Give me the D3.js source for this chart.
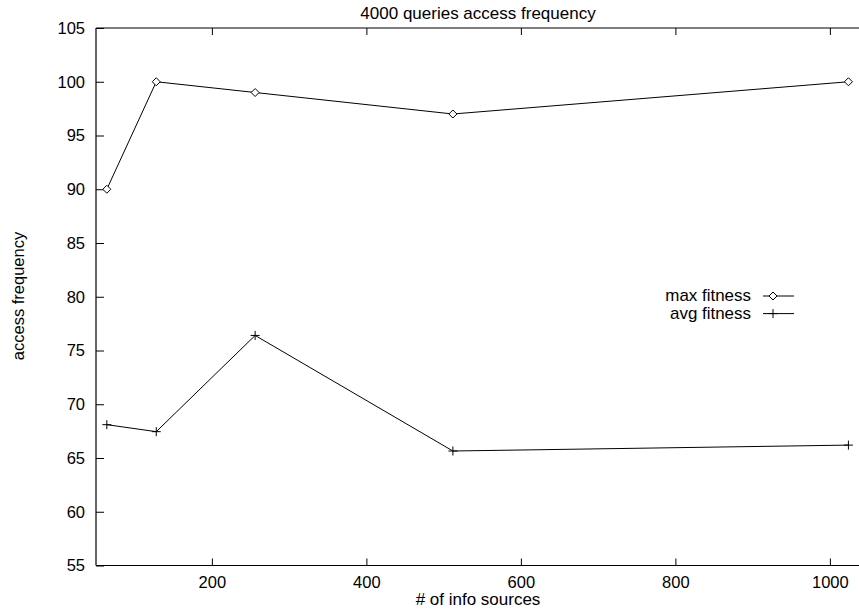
<!DOCTYPE html>
<html>
<head>
<meta charset="utf-8">
<script src="https://cdn.jsdelivr.net/npm/d3@7"></script>
<style>
  html, body { margin: 0; padding: 0; background: #fff; }
  svg { display: block; }
  text { font-family: "Liberation Sans", Arial, Helvetica, sans-serif; fill: #000; }
</style>
</head>
<body>
<svg id="chart" width="859" height="610"></svg>
<script>
// ---- data ----
const infoSources = [64, 128, 256, 512, 1024];
const maxFitness = [90, 100, 99, 97, 100];
const avgFitness = [68.1, 67.45, 76.4, 65.65, 66.2];
const xTicks = [200, 400, 600, 800, 1000];
const yTicks = [55, 60, 65, 70, 75, 80, 85, 90, 95, 100, 105];
const seriesNames = ["max fitness", "avg fitness"];
const titleText = "4000 queries access frequency";
const xLabel = "# of info sources";
const yLabel = "access frequency";

(function () {
const W = 859, H = 610;
const mLeft = 96, mRight = 868.5, mTop = 28, mBottom = 565.5;
const svg = d3.select("#chart");

const x = d3.scaleLinear().domain([50, 1050]).range([mLeft, mRight]);
const y = d3.scaleLinear().domain([55, 105]).range([mBottom, mTop]);

const fs = 16.5;
const g = svg.append("g");

// frame (top, bottom, left)
g.append("line").attr("x1", mLeft).attr("x2", W + 5).attr("y1", mTop).attr("y2", mTop)
  .attr("stroke", "#000").attr("stroke-width", 1.2);
g.append("line").attr("x1", mLeft).attr("x2", W + 5).attr("y1", mBottom).attr("y2", mBottom)
  .attr("stroke", "#000").attr("stroke-width", 1.2);
g.append("line").attr("x1", mLeft).attr("x2", mLeft).attr("y1", mTop).attr("y2", mBottom)
  .attr("stroke", "#000").attr("stroke-width", 1.2);

// y axis
const yAxis = d3.axisLeft(y).tickValues(yTicks).tickSize(-8).tickPadding(10).tickFormat(d3.format("d"));
const ya = g.append("g").attr("transform", `translate(${mLeft},0)`).call(yAxis);
ya.select(".domain").remove();
ya.selectAll("line").attr("stroke", "#000");
ya.selectAll("text").attr("font-size", fs).attr("font-family", null).attr("x", -11);

// x axis bottom
const xAxis = d3.axisBottom(x).tickValues(xTicks).tickSize(-7).tickPadding(12).tickFormat(d3.format("d"));
const xa = g.append("g").attr("transform", `translate(0,${mBottom})`).call(xAxis);
xa.select(".domain").remove();
xa.selectAll("line").attr("stroke", "#000");
xa.selectAll("text").attr("font-size", fs).attr("font-family", null).attr("y", 11);

// x axis top mirrored ticks
const xTop = d3.axisTop(x).tickValues(xTicks).tickSize(-7).tickFormat("");
const xt = g.append("g").attr("transform", `translate(0,${mTop})`).call(xTop);
xt.select(".domain").remove();
xt.selectAll("line").attr("stroke", "#000");

// lines
const line = d3.line().x((d, i) => x(infoSources[i])).y(d => y(d));
g.append("path").datum(maxFitness).attr("d", line).attr("fill", "none").attr("stroke", "#000").attr("stroke-width", 1);
g.append("path").datum(avgFitness).attr("d", line).attr("fill", "none").attr("stroke", "#000").attr("stroke-width", 1);

// markers
function diamond(sel, cx, cy) {
  const r = 4;
  sel.append("path")
    .attr("d", `M${cx - r},${cy}L${cx},${cy - r}L${cx + r},${cy}L${cx},${cy + r}Z`)
    .attr("fill", "#fff").attr("stroke", "#000").attr("stroke-width", 1);
}
function plus(sel, cx, cy) {
  const r = 4.5;
  sel.append("path")
    .attr("d", `M${cx - r},${cy}H${cx + r}M${cx},${cy - r}V${cy + r}`)
    .attr("fill", "none").attr("stroke", "#000").attr("stroke-width", 1);
}
maxFitness.forEach((v, i) => diamond(g, x(infoSources[i]), y(v)));
avgFitness.forEach((v, i) => plus(g, x(infoSources[i]), y(v)));

// title and labels
svg.append("text").attr("x", 478).attr("y", 19).attr("text-anchor", "middle")
  .attr("font-size", 17).text(titleText);
svg.append("text").attr("x", 478).attr("y", 605).attr("text-anchor", "middle")
  .attr("font-size", 17).text(xLabel);
svg.append("text").attr("transform", "translate(24,296) rotate(-90)").attr("text-anchor", "middle")
  .attr("font-size", 16.5).text(yLabel);

// legend
const legY = [296, 313.6];
seriesNames.forEach((name, i) => {
  svg.append("text").attr("x", 751).attr("y", legY[i] + 5.5)
    .attr("text-anchor", "end").attr("font-size", 16).attr("transform", `translate(${751 * -0.06},0) scale(1.06,1)`).text(name);
  svg.append("line").attr("x1", 763).attr("x2", 794).attr("y1", legY[i]).attr("y2", legY[i])
    .attr("stroke", "#000").attr("stroke-width", 1);
  if (i === 0) diamond(svg, 773, legY[i]); else plus(svg, 773, legY[i]);
});
})();
</script>
</body>
</html>
